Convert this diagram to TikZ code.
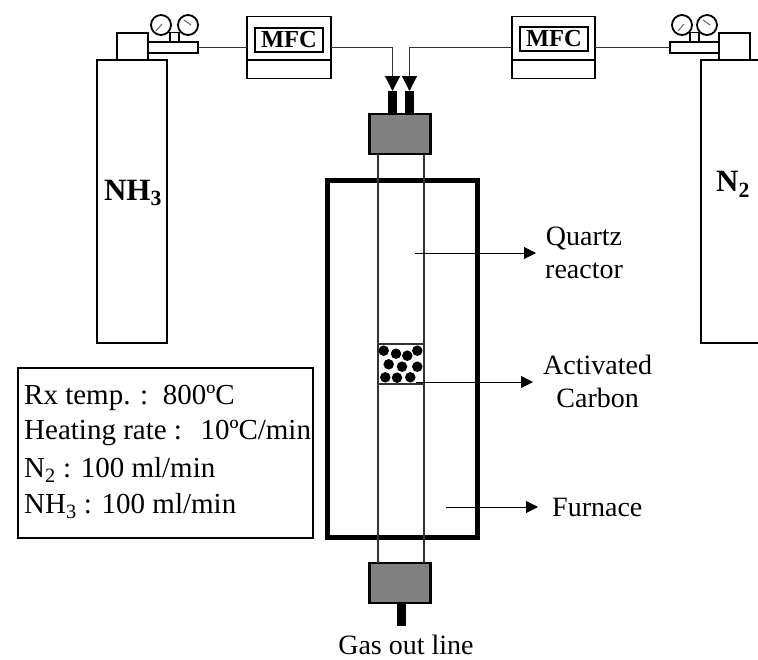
\documentclass[tikz,border=0pt]{standalone}
\usepackage{fontspec}
\setmainfont{Liberation Serif}
\usetikzlibrary{arrows.meta}
\tikzset{
  x=1pt,y=-1pt,
  box/.style={draw=black,fill=white,line width=1.8pt,inner sep=0pt,outer sep=0pt},
  pipe/.style={draw=black!80,line width=1.2pt},
  block/.style={box,fill=black!50,line width=2.2pt,minimum width=61pt,minimum height=40pt},
  stub/.style={fill=black,draw=none,inner sep=0pt,outer sep=0pt},
  gauge/.style={circle,box,minimum size=20pt},
  needle/.style={draw=black!60,line width=1pt},
  bead/.style={circle,fill=black,draw=none,minimum size=10.5pt,inner sep=0pt},
  flow/.style={draw=black,line width=1pt,-{Triangle[length=12pt,width=12pt]}},
  feed/.style={draw=black!80,line width=1.2pt,-{Triangle[length=15pt,width=15pt,color=black]}},
  label/.style={inner sep=0pt,font=\fontsize{28}{33}\selectfont,align=center},
  outlabel/.style={inner sep=0pt,font=\fontsize{28}{30}\selectfont},
  cond/.style={inner sep=0pt,anchor=west,font=\fontsize{29}{32}\selectfont},
  gas/.style={font=\fontsize{31}{34}\selectfont\bfseries},
  mfctext/.style={box,line width=2pt,minimum width=68pt,minimum height=24pt,font=\fontsize{24.5}{25}\selectfont\bfseries},
}
\begin{document}
\begin{tikzpicture}
\useasboundingbox (0,0) rectangle (758,659);
% cylinders
\node[box,minimum width=70pt,minimum height=283pt] (nh3) at (132,201.5) {};
\node[gas] at (133,193) {NH\textsubscript{3}};
\node[box,minimum width=31pt,minimum height=27pt] (neckL) at (132.5,46.5) {};
\node[box,minimum width=50pt,minimum height=10.5pt] (regL) at (173,47.5) {};
\node[gauge] (gL1) at (161,25) {};
\node[gauge] (gL2) at (188,25) {};
\draw[box,fill=none,line width=1.4pt] (170,42) -- (170,32.5) -- (179,32.5) -- (179,42);
\draw[needle] (156,31) -- (162,24);
\draw[needle] (184,20) -- (191,25);
% right cylinder (runs off the page)
\begin{scope}
\clip (0,0) rectangle (758,659);
\node[box,minimum width=100pt,minimum height=283pt,anchor=north west] (n2) at (701,60) {};
\end{scope}
\node[gas] at (733,184) {N\textsubscript{2}};
\node[box,minimum width=31pt,minimum height=27pt] (neckR) at (734.5,46.5) {};
\node[box,minimum width=49pt,minimum height=10.5pt] (regR) at (694.5,47.5) {};
\node[gauge] (gR1) at (682,25) {};
\node[gauge] (gR2) at (707,25) {};
\draw[box,fill=none,line width=1.4pt] (690,42) -- (690,32.5) -- (699,32.5) -- (699,42);
\draw[needle] (678,31) -- (684,24);
\draw[needle] (703,20) -- (710,25);
% MFCs
\node[box,minimum width=84pt,minimum height=62pt] (mfcL) at (289,47.5) {};
\draw[box,fill=none] (mfcL.west |- 0,60) -- (mfcL.east |- 0,60);
\node[mfctext] (tL) at (289,40) {MFC};
\node[box,minimum width=83pt,minimum height=62pt] (mfcR) at (553.5,47.5) {};
\draw[box,fill=none] (mfcR.west |- 0,60) -- (mfcR.east |- 0,60);
\node[mfctext] (tR) at (554,39) {MFC};
% reactor
\node[block] (top) at (400,134) {};
\node[block] (bot) at (400,583) {};
\node[stub,minimum width=9pt,minimum height=23pt] (in1) at (392.5,102.5) {};
\node[stub,minimum width=9pt,minimum height=23pt] (in2) at (409.5,102.5) {};
\node[stub,minimum width=9pt,minimum height=23pt] (out) at (401.5,614.5) {};
\node[draw=black,line width=5pt,minimum width=150pt,minimum height=357pt,inner sep=0pt,outer sep=0pt] (furnace) at (402,358.5) {};
\coordinate (tubeLt) at (378,154);
\coordinate (tubeRt) at (424,154);
\coordinate (tubeLb) at (378,563);
\coordinate (tubeRb) at (424,563);
\draw[pipe] (tubeLt) -- (tubeLb);
\draw[pipe] (tubeRt) -- (tubeRb);
\node[draw=black!80,line width=1.2pt,minimum width=46pt,minimum height=40pt,inner sep=0pt,outer sep=0pt] (bed) at (401,364) {};
\foreach \a/\b in {383.7/350.7,396/353.7,407.3/355.7,417.3/350.7,388.7/364.3,402/366.7,417.3/366.7,385.3/377.3,397/377.7,410.3/377.3}
  \node[bead] at (\a,\b) {};
% feed lines
\draw[pipe] (regL.east) -- (mfcL.west);
\draw[pipe] (mfcR.east) -- (regR.west);
\draw[feed] (mfcL.east) -| (in1.north);
\draw[feed] (mfcR.west) -| (in2.north);
% callouts
\coordinate (a1) at (415,253);
\coordinate (a2) at (416,382);
\coordinate (a3) at (446,507);
\node[label,anchor=west] (q) at (545,253) {Quartz\\reactor};
\node[label,anchor=west] (c) at (543,381) {Activated\\Carbon};
\node[label,anchor=west] (f) at (552,507) {Furnace};
\draw[flow,shorten >=9pt] (a1) -- (a1 -| q.west);
\draw[flow,shorten >=10pt] (a2) -- (a2 -| c.west);
\draw[flow,shorten >=14pt] (a3) -- (a3 -| f.west);
\node[outlabel,anchor=base] at (406,654) {Gas out line};
% conditions
\node[box,minimum width=295pt,minimum height=170pt] (condbox) at (165.5,453) {};
\node[cond] at (24,398) {Rx temp. :\ \ 800ºC};
\node[cond] at (24,433) {Heating rate :\ \ \kern4pt 10ºC/min};
\node[cond] at (24,470) {N\textsubscript{2} : 100 ml/min};
\node[cond] at (24,506) {NH\textsubscript{3} : 100 ml/min};
\end{tikzpicture}
\end{document}
